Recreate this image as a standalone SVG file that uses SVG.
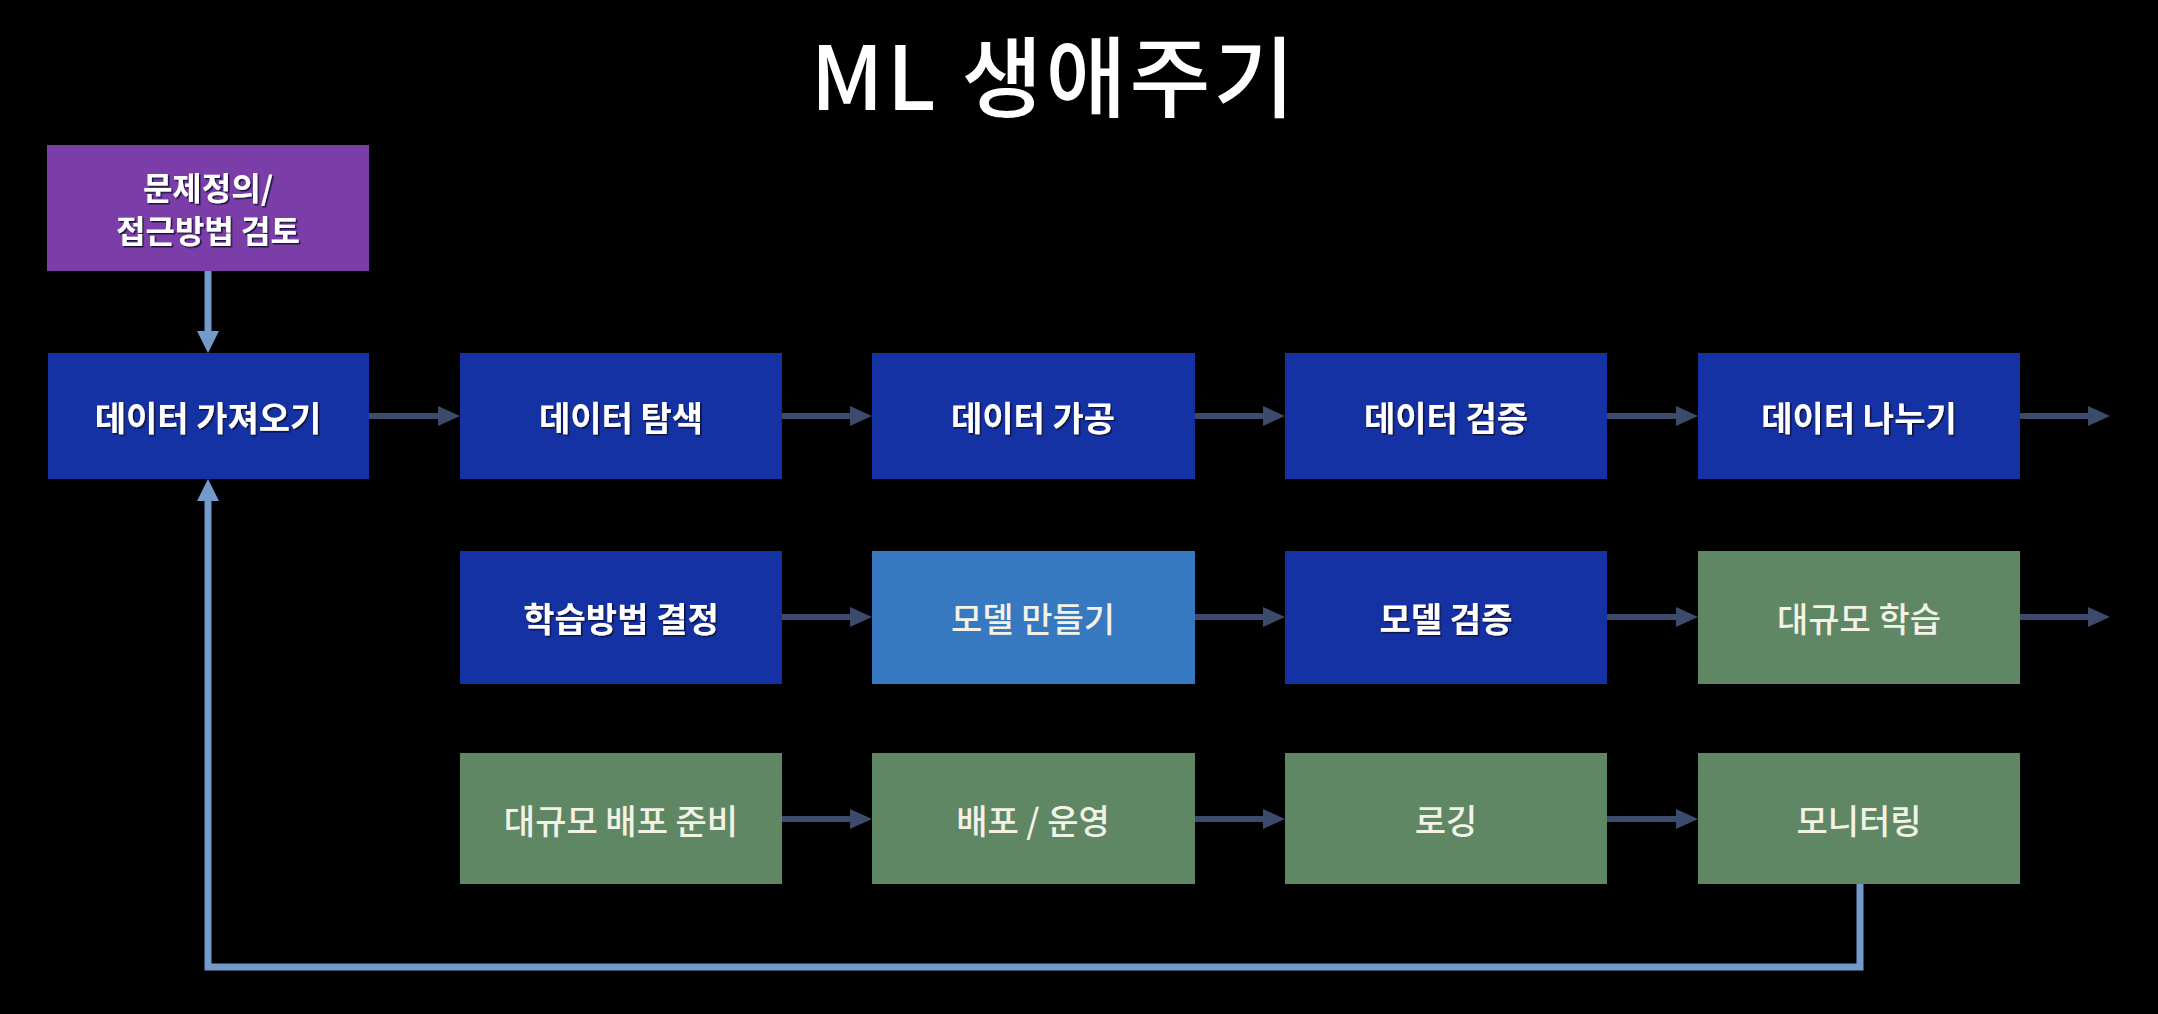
<svg xmlns="http://www.w3.org/2000/svg" width="2158" height="1014" viewBox="0 0 2158 1014">
<style>
.t{font-family:"Noto Sans CJK KR","Noto Sans",sans-serif;font-size:34px;text-anchor:middle;dominant-baseline:central}
.b{font-weight:700;fill:#ffffff;filter:url(#sh)}
.m{font-weight:500;fill:#f2f2e6}
.blue{fill:#1532a4}
.lblue{fill:#3679c1}
.green{fill:#608764}
.purple{fill:#7b3ea8}
.arr{stroke:#3c4a6c;stroke-width:6;fill:none;marker-end:url(#ah)}
.fb{stroke:#729bcb;stroke-width:7;fill:none}
</style>
<defs>
<filter id="sh" x="-10%" y="-30%" width="120%" height="160%">
<feDropShadow dx="1.5" dy="1.5" stdDeviation="0.6" flood-color="#101030" flood-opacity="0.9"/>
</filter>
<marker id="ah" markerUnits="userSpaceOnUse" markerWidth="22" markerHeight="20" refX="15" refY="10" orient="auto">
<path d="M0,0 L22,10 L0,20 z" fill="#3c4a6c"/>
</marker>
<marker id="fh" markerUnits="userSpaceOnUse" markerWidth="22" markerHeight="22" refX="15" refY="11" orient="auto">
<path d="M0,0 L22,11 L0,22 z" fill="#729bcb"/>
</marker>
</defs>
<rect width="2158" height="1014" fill="#000"/>
<text x="1054" y="110" font-family="'Noto Sans CJK KR','Noto Sans',sans-serif" font-size="88" font-weight="500" letter-spacing="3" fill="#fff" text-anchor="middle">ML 생애주기</text>

<g id="connectors">
<line x1="208" y1="271" x2="208" y2="346" class="fb" marker-end="url(#fh)"/>
<polyline points="1860,884 1860,967 208,967 208,486" class="fb" marker-end="url(#fh)"/>
<line x1="369" y1="416" x2="453" y2="416" class="arr"/>
<line x1="782" y1="416" x2="865" y2="416" class="arr"/>
<line x1="1195" y1="416" x2="1278" y2="416" class="arr"/>
<line x1="1607" y1="416" x2="1691" y2="416" class="arr"/>
<line x1="2020" y1="416" x2="2103" y2="416" class="arr"/>
<line x1="782" y1="617" x2="865" y2="617" class="arr"/>
<line x1="1195" y1="617" x2="1278" y2="617" class="arr"/>
<line x1="1607" y1="617" x2="1691" y2="617" class="arr"/>
<line x1="2020" y1="617" x2="2103" y2="617" class="arr"/>
<line x1="782" y1="819" x2="865" y2="819" class="arr"/>
<line x1="1195" y1="819" x2="1278" y2="819" class="arr"/>
<line x1="1607" y1="819" x2="1691" y2="819" class="arr"/>
</g>

<g id="n0"><rect x="47" y="145" width="322" height="126" class="purple"/>
<text x="208" y="186" class="t b" style="font-size:32px">문제정의/</text>
<text x="208" y="229" class="t b" style="font-size:32px">접근방법 검토</text></g>

<g id="r1c0"><rect x="48" y="353" width="321" height="126" class="blue"/><text x="208" y="416" class="t b">데이터 가져오기</text></g>
<g id="r1c1"><rect x="460" y="353" width="322" height="126" class="blue"/><text x="621" y="416" class="t b">데이터 탐색</text></g>
<g id="r1c2"><rect x="872" y="353" width="323" height="126" class="blue"/><text x="1033" y="416" class="t b">데이터 가공</text></g>
<g id="r1c3"><rect x="1285" y="353" width="322" height="126" class="blue"/><text x="1446" y="416" class="t b">데이터 검증</text></g>
<g id="r1c4"><rect x="1698" y="353" width="322" height="126" class="blue"/><text x="1859" y="416" class="t b">데이터 나누기</text></g>

<g id="r2c1"><rect x="460" y="551" width="322" height="133" class="blue"/><text x="621" y="617" class="t b">학습방법 결정</text></g>
<g id="r2c2"><rect x="872" y="551" width="323" height="133" class="lblue"/><text x="1033" y="617" class="t m">모델 만들기</text></g>
<g id="r2c3"><rect x="1285" y="551" width="322" height="133" class="blue"/><text x="1446" y="617" class="t b">모델 검증</text></g>
<g id="r2c4"><rect x="1698" y="551" width="322" height="133" class="green"/><text x="1859" y="617" class="t m">대규모 학습</text></g>

<g id="r3c1"><rect x="460" y="753" width="322" height="131" class="green"/><text x="621" y="819" class="t m">대규모 배포 준비</text></g>
<g id="r3c2"><rect x="872" y="753" width="323" height="131" class="green"/><text x="1033" y="819" class="t m">배포 / 운영</text></g>
<g id="r3c3"><rect x="1285" y="753" width="322" height="131" class="green"/><text x="1446" y="819" class="t m">로깅</text></g>
<g id="r3c4"><rect x="1698" y="753" width="322" height="131" class="green"/><text x="1859" y="819" class="t m">모니터링</text></g>
</svg>
